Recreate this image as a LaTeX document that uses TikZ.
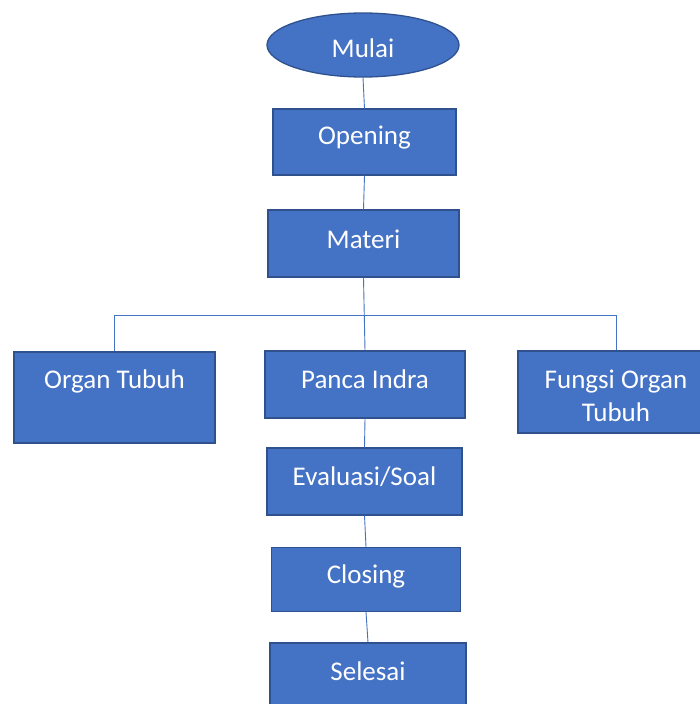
\documentclass[tikz,border=0pt]{standalone}
\usepackage{fontspec}
\setmainfont{Carlito}
\usetikzlibrary{shapes.geometric}
\definecolor{fillblue}{HTML}{4472C4}
\definecolor{edgeblue}{HTML}{2F528F}
\tikzset{
  box/.style={draw=edgeblue, fill=fillblue, line width=1.3pt, rectangle, inner sep=0pt},
  oval/.style={draw=edgeblue, fill=fillblue, line width=1.3pt, ellipse, inner sep=0pt},
  txt/.style={text=white, font=\fontsize{27}{33}\selectfont, inner sep=0pt, align=center},
  conn/.style={draw=fillblue, line width=0.9pt}
}
\begin{document}
\begin{tikzpicture}[x=1pt,y=-1pt]
\useasboundingbox (0,0) rectangle (700,704);
\clip (0,0) rectangle (700,704);
\fill[white] (0,0) rectangle (700,704);
% shapes
\node[oval, minimum width=192, minimum height=64] (mulai) at (363,45) {};
\node[box, minimum width=183, minimum height=66] (opening) at (364.5,142) {};
\node[box, minimum width=191, minimum height=67] (materi) at (363.5,243.5) {};
\node[box, minimum width=201, minimum height=91] (organ) at (114.5,397.5) {};
\node[box, minimum width=200, minimum height=67] (panca) at (365,384.5) {};
\node[box, minimum width=196, minimum height=82] (fungsi) at (616,392) {};
\node[box, minimum width=195, minimum height=67] (eval) at (364.5,481.5) {};
\node[box, minimum width=189, minimum height=64] (closing) at (366,579.5) {};
\node[box, minimum width=196, minimum height=66] (selesai) at (368,676) {};
% texts
\node[txt] (tmulai) at (363,48) {Mulai};
\node[txt] (topening) at (364.5,138) {Opening};
\node[txt] (tmateri) at (363.5,239) {Materi};
\node[txt] (torgan) at (114.5,381) {Organ Tubuh};
\node[txt] (tpanca) at (365,379) {Panca Indra};
\node[txt] (tfungsi) at (616,396) {Fungsi Organ\\Tubuh};
\node[txt] (teval) at (364.5,477) {Evaluasi/Soal};
\node[txt] (tclosing) at (366,576) {Closing};
\node[txt] (tselesai) at (368,671) {Selesai};
% connectors
\coordinate (bus) at (0,315);
\draw[conn] (mulai.south) -- (opening.north);
\draw[conn] (opening.south) -- (materi.north);
\draw[conn] (materi.south) -- (panca.north);
\draw[conn] (organ.north) |- (bus -| fungsi.north) -- (fungsi.north);
\draw[conn] (panca.south) -- (eval.north);
\draw[conn] (eval.south) -- (closing.north);
\draw[conn] (closing.south) -- (selesai.north);
\end{tikzpicture}
\end{document}
